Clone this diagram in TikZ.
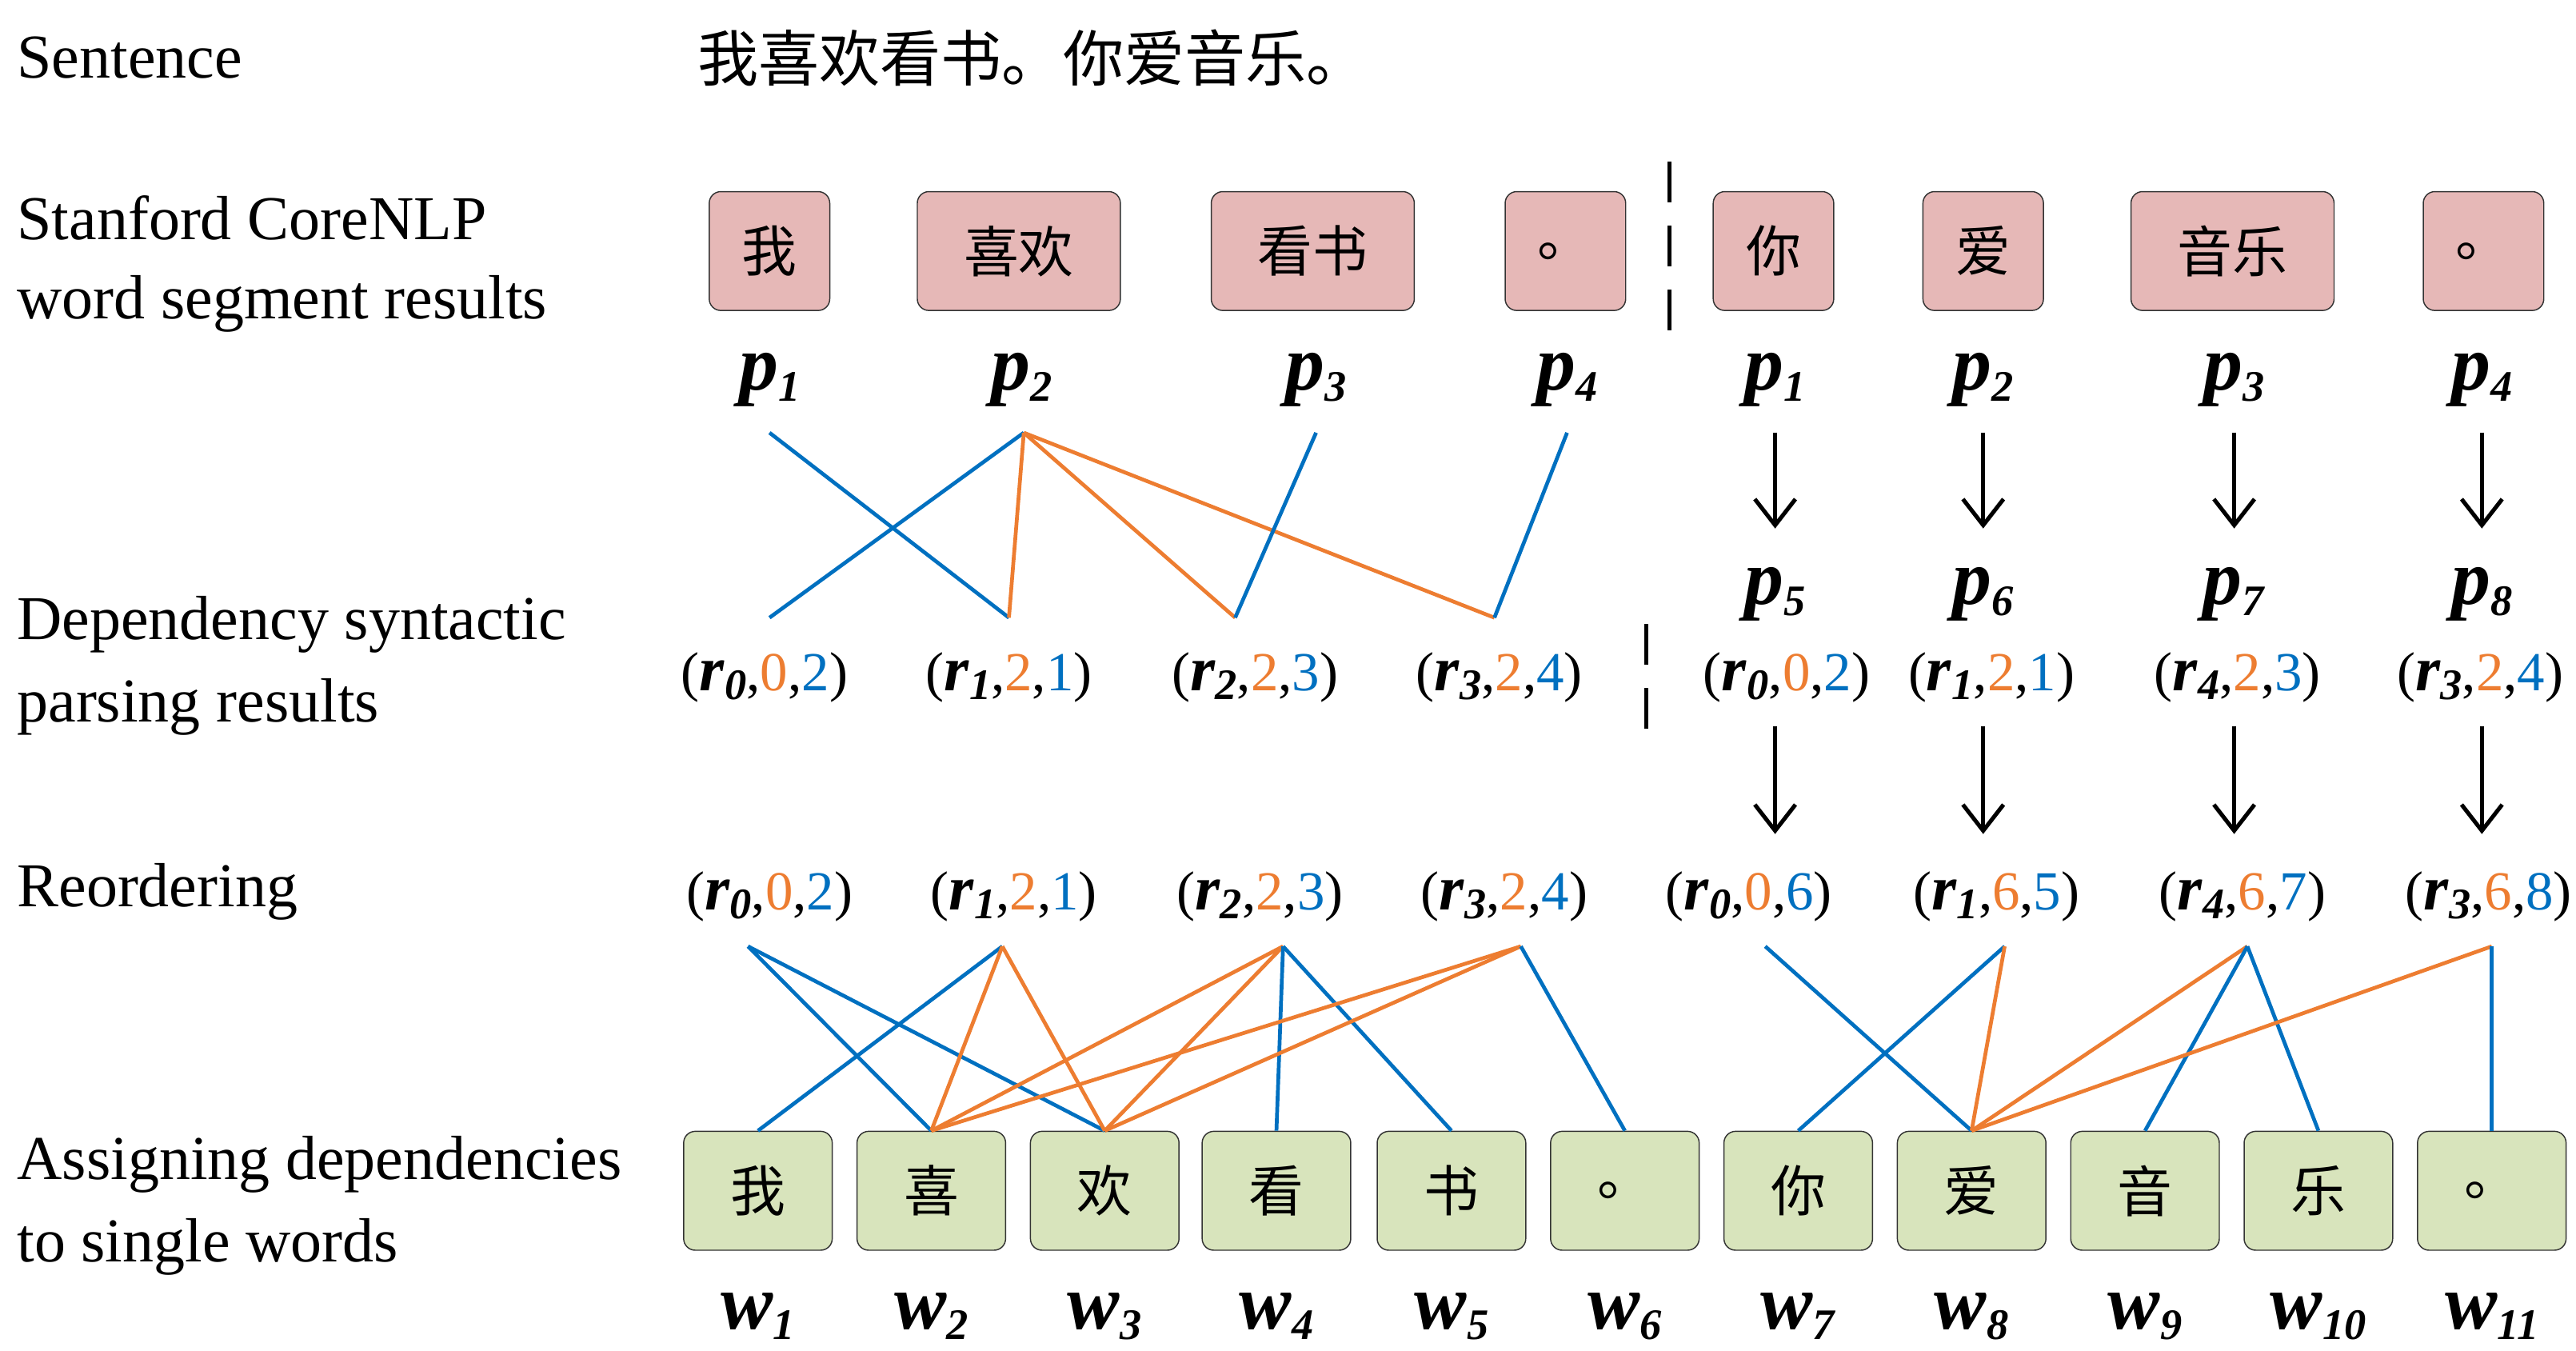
\documentclass[tikz,border=0pt]{standalone}
\usepackage{fontspec}
\usetikzlibrary{arrows.meta}
\setmainfont{Liberation Serif}
\newfontfamily\cjk{Noto Sans CJK SC}
\definecolor{bl}{HTML}{0070C0}
\definecolor{orn}{HTML}{ED7D31}
\definecolor{pk}{HTML}{E6B8B7}
\definecolor{gn}{HTML}{D8E4BC}
\newcommand\lab[2]{\textbf{\textit{#1}}\raisebox{-0.3ex}{\fontsize{15}{15}\selectfont\textbf{\textit{#2}}}}
\newcommand\tup[4]{{\fontsize{19}{20}\selectfont(}{\fontsize{22}{24}\selectfont\lab{#1}{#2}}{\fontsize{19}{20}\selectfont,\textcolor{orn}{#3},\textcolor{bl}{#4})}}
\begin{document}
\begin{tikzpicture}[x=0.02cm,y=-0.02cm,
  txt/.style={anchor=west,font=\fontsize{21.5}{22}\selectfont,inner sep=0},
  pb/.style={draw=black!80,fill=pk,rounded corners=4pt,minimum height=1.44cm,font=\cjk\fontsize{19}{20}\selectfont,inner sep=0},
  gb/.style={draw=black!80,fill=gn,rounded corners=4pt,minimum height=1.44cm,minimum width=1.8cm,font=\cjk\fontsize{19}{20}\selectfont,inner sep=0},
  pl/.style={font=\fontsize{27}{28}\selectfont,inner sep=0},
  tl/.style={inner sep=0},
  B/.style={bl,line width=1.3pt},
  O/.style={orn,line width=1.3pt},
  ar/.style={-{Straight Barb[length=9pt,width=14pt]},line width=1.4pt},
  dsh/.style={dashed,dash pattern=on 14pt off 8pt,line width=1.5pt}]
\useasboundingbox (0,0) rectangle (1560,818);
\node[txt] (l1) at (10,35) {Sentence};
\node[anchor=west,inner sep=0,font=\cjk\fontsize{21}{22}\selectfont] (s) at (422,35) {我喜欢看书。你爱音乐。};
\node[txt] (l2) at (10,132) {Stanford CoreNLP};
\node[txt] (l3) at (10,184) {word segment results};
\node[txt] (l4) at (10,378) {Dependency syntactic};
\node[txt] (l5) at (10,428) {parsing results};
\node[txt] (l6) at (10,540) {Reordering};
\node[txt] (l7) at (10,705) {Assigning dependencies};
\node[txt] (l8) at (10,755) {to single words};
% segment boxes
\foreach \n/\x/\w/\t in {a1/466/1.46/我,a2/617/2.46/喜欢,a3/795/2.46/看书,a4/948/1.46/。,a5/1074/1.46/你,a6/1201/1.46/爱,a7/1352/2.46/音乐,a8/1504/1.46/。}
  \node[pb,minimum width=\w cm] (\n) at (\x,152) {\t};
\coordinate (d1a) at (1011,98); \coordinate (d1b) at (1011,210);
\draw[dsh] (d1a) -- (d1b);
\coordinate (d2a) at (997,378); \coordinate (d2b) at (997,445);
\draw[dsh] (d2a) -- (d2b);
% p labels
\foreach \n/\x/\i in {p1/466/1,p2/619/2,p3/797/3,p4/949/4,q1/1075/1,q2/1201/2,q3/1353/3,q4/1503/4}
  \node[pl] (\n) at (\x,230) {\lab{p}{\i}};
\foreach \n/\x/\i in {q5/1075/5,q6/1201/6,q7/1353/7,q8/1503/8}
  \node[pl] (\n) at (\x,360) {\lab{p}{\i}};
\foreach \x/\i in {1075/1,1201/2,1353/3,1503/4} {
  \coordinate (A\i) at (\x,262); \coordinate (B\i) at (\x,320);
  \draw[ar] (A\i) -- (B\i);
  \coordinate (C\i) at (\x,440); \coordinate (D\i) at (\x,505);
  \draw[ar] (C\i) -- (D\i);}
% dependency labels
\foreach \n/\x/\r/\s/\h/\d in {t1/463/r/0/0/2,t2/611/r/1/2/1,t3/760/r/2/2/3,t4/908/r/3/2/4,t5/1082/r/0/0/2,t6/1206/r/1/2/1,t7/1355/r/4/2/3,t8/1502/r/3/2/4}
  \node[tl] (\n) at (\x,410) {\tup{\r}{\s}{\h}{\d}};
\foreach \n/\x/\r/\s/\h/\d in {u1/466/r/0/0/2,u2/614/r/1/2/1,u3/763/r/2/2/3,u4/911/r/3/2/4,u5/1059/r/0/0/6,u6/1209/r/1/6/5,u7/1358/r/4/6/7,u8/1507/r/3/6/8}
  \node[tl] (\n) at (\x,543) {\tup{\r}{\s}{\h}{\d}};
% top dependency lines
\coordinate (P1) at (466,262); \coordinate (P2) at (620,262); \coordinate (P3) at (797,262); \coordinate (P4) at (949,262);
\coordinate (T1) at (466,374); \coordinate (T2) at (611,374); \coordinate (T3) at (748,374); \coordinate (T4) at (905,374);
\draw[B] (P1) -- (T2); \draw[B] (P2) -- (T1);
\draw[O] (P2) -- (T2); \draw[O] (P2) -- (T3); \draw[O] (P2) -- (T4);
\draw[B] (P3) -- (T3); \draw[B] (P4) -- (T4);
% bottom boxes
\foreach \n/\x/\t/\i in {w1/459/我/1,w2/564/喜/2,w3/669/欢/3,w4/773/看/4,w5/879/书/5,w6/984/。/6,w7/1089/你/7,w8/1194/爱/8,w9/1299/音/9,w10/1404/乐/10,w11/1509/。/11}
  {\node[gb] (\n) at (\x,721) {\t};
   \node[pl] (l\n) at (\x,797) {\lab{w}{\i}};}
\foreach \n/\x in {R1/453,R2/607,R3/777,R4/921,R5/1069,R6/1214,R7/1361,R8/1509}
  \coordinate (\n) at (\x,573);
\draw[B] (R1) -- (w2.north); \draw[B] (R1) -- (w3.north); \draw[B] (R2) -- (w1.north);
\draw[O] (R2) -- (w2.north); \draw[O] (R2) -- (w3.north);
\draw[O] (R3) -- (w2.north); \draw[O] (R3) -- (w3.north); \draw[B] (R3) -- (w4.north); \draw[B] (R3) -- (w5.north);
\draw[O] (R4) -- (w2.north); \draw[O] (R4) -- (w3.north); \draw[B] (R4) -- (w6.north);
\draw[B] (R5) -- (w8.north); \draw[B] (R6) -- (w7.north); \draw[O] (R6) -- (w8.north);
\draw[O] (R7) -- (w8.north); \draw[B] (R7) -- (w9.north); \draw[B] (R7) -- (w10.north);
\draw[O] (R8) -- (w8.north); \draw[B] (R8) -- (w11.north);
\end{tikzpicture}
\end{document}
